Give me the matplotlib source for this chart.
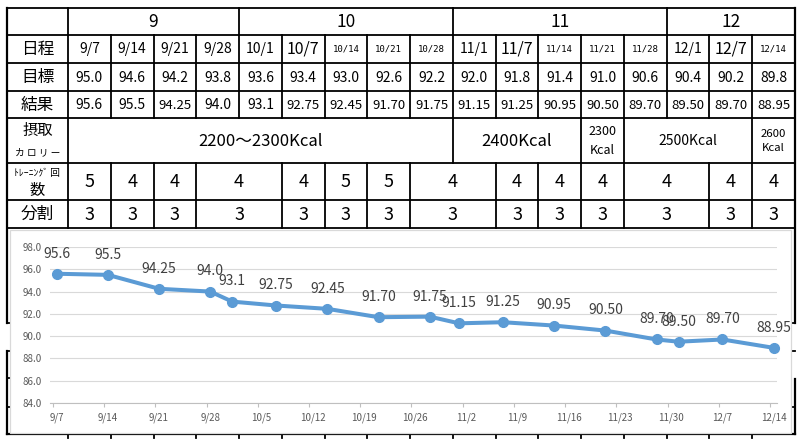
import matplotlib
matplotlib.use('Agg')
import matplotlib.pyplot as plt
import matplotlib.dates as mdates
from matplotlib.patches import Rectangle
from matplotlib.ticker import FixedLocator, FuncFormatter, NullFormatter
import numpy as np
from datetime import datetime, timedelta

plt.rcParams['font.family'] = ['Noto Sans CJK JP', 'DejaVu Sans']

# ---------------- data ----------------
YEAR = 2019
months = ['9', '10', '11', '12']
month_spans = [4, 5, 5, 3]
dates = ['9/7', '9/14', '9/21', '9/28', '10/1', '10/7', '10/14', '10/21', '10/28',
         '11/1', '11/7', '11/14', '11/21', '11/28', '12/1', '12/7', '12/14']
targets = ['95.0', '94.6', '94.2', '93.8', '93.6', '93.4', '93.0', '92.6', '92.2',
           '92.0', '91.8', '91.4', '91.0', '90.6', '90.4', '90.2', '89.8']
results = ['95.6', '95.5', '94.25', '94.0', '93.1', '92.75', '92.45', '91.70', '91.75',
           '91.15', '91.25', '90.95', '90.50', '89.70', '89.50', '89.70', '88.95']
calorie_text = ['2200～2300Kcal', '2400Kcal', '2300\nKcal', '2500Kcal', '2600\nKcal']
calorie_spans = [9, 3, 1, 3, 1]
training = ['5', '4', '4', '4', '4', '5', '5', '4', '4', '4', '4', '4', '4', '4']
split = ['3', '3', '3', '3', '3', '3', '3', '3', '3', '3', '3', '3', '3', '3']
group_spans = [1, 1, 1, 2, 1, 1, 1, 2, 1, 1, 1, 2, 1, 1]
row_labels = ['日程', '目標', '結果']
axis_start, axis_end = '9/7', '12/14'

# ---------------- styles ----------------
small_dates = {'10/14', '10/21', '10/28', '11/14', '11/21', '11/28', '12/14'}
large_dates = {'10/7', '11/7', '12/7'}
calorie_sizes = [12, 12, 9, 10, 8.2]

W, H = 801, 444
fig = plt.figure(figsize=(W / 100, H / 100), dpi=100)
bg = fig.add_axes([0, 0, 1, 1])
bg.set_xlim(0, W)
bg.set_ylim(H, 0)
bg.axis('off')

XL, XC, XR = 7, 68, 795
ncol = len(dates)
cw = (XR - XC) / ncol
colx = [XC + cw * i for i in range(ncol + 1)]
rows = [8, 35, 63, 91, 118, 163, 200, 228]
LW = 1.3
K = 'black'


def hline(y, x0, x1, lw=LW):
    bg.plot([x0, x1], [y, y], color=K, lw=lw, solid_capstyle='projecting', zorder=2)


def vline(x, y0, y1, lw=LW):
    bg.plot([x, x], [y0, y1], color=K, lw=lw, solid_capstyle='projecting', zorder=2)


def txt(x, y, s, size, **kw):
    bg.text(x, y, s, fontsize=size, ha='center', va='center', color=K, zorder=3, **kw)


# horizontal lines
for y in rows:
    hline(y, XL, XR)
# outer / label column
vline(XL, rows[0], 323, 1.6)
vline(XL, 351, 434, 1.6)
vline(XR, rows[0], 323, 1.6)
vline(XR, 379, 434, 1.6)
vline(XC, rows[0], rows[-1])
hline(434, XL, XR, 1.6)
for yy in [323, 351, 378, 407]:
    hline(yy, XL, XL + 3)
for yy in [323, 351, 407]:
    hline(yy, XR - 4, XR)
for x in colx[:-1]:
    vline(x, 434, 438)


def spans_to_bounds(spans):
    b = [0]
    for s in spans:
        b.append(b[-1] + s)
    return b


# row 0: months
b = spans_to_bounds(month_spans)
for i, m in enumerate(months):
    x0, x1 = colx[b[i]], colx[b[i + 1]]
    if b[i] > 0:
        vline(x0, rows[0], rows[1])
    txt((x0 + x1) / 2, (rows[0] + rows[1]) / 2 + 0.5, m, 12.5)

# rows 1-3
for i in range(1, ncol):
    vline(colx[i], rows[1], rows[4])
for r, lab in enumerate(row_labels):
    yc = (rows[r + 1] + rows[r + 2]) / 2 + 0.5
    txt((XL + XC) / 2, yc, lab, 12)
for i in range(ncol):
    xc = (colx[i] + colx[i + 1]) / 2
    d = dates[i]
    yc = (rows[1] + rows[2]) / 2 + 0.5
    if d in small_dates:
        bg.text(xc, yc, d, fontsize=6.5, ha='center', va='center', family='DejaVu Sans Mono', zorder=3)
    elif d in large_dates:
        txt(xc, yc, d, 11.5)
    else:
        txt(xc, yc, d, 10)
    txt(xc, (rows[2] + rows[3]) / 2 + 0.5, targets[i], 10)
    txt(xc, (rows[3] + rows[4]) / 2 + 0.5, results[i], 9.5 if len(results[i]) > 4 else 10)

# row 4: calories
txt((XL + XC) / 2, 130, '摂取', 11)
txt((XL + XC) / 2, 152, 'カ ロ リ ー', 7)
b = spans_to_bounds(calorie_spans)
for i, s in enumerate(calorie_text):
    x0, x1 = colx[b[i]], colx[b[i + 1]]
    if b[i] > 0:
        vline(x0, rows[4], rows[5])
    bg.text((x0 + x1) / 2, (rows[4] + rows[5]) / 2 + 0.5, s, fontsize=calorie_sizes[i],
            ha='center', va='center', linespacing=1.55, zorder=3)

# rows 5-6: training and split
txt((XL + XC) / 2, 173, 'ﾄﾚｰﾆﾝｸﾞ 回', 7)
txt((XL + XC) / 2, 190, '数', 11)
txt((XL + XC) / 2, (rows[6] + rows[7]) / 2 + 0.5, '分割', 12)
b = spans_to_bounds(group_spans)
for i in range(len(group_spans)):
    x0, x1 = colx[b[i]], colx[b[i + 1]]
    if b[i] > 0:
        vline(x0, rows[5], rows[7])
    txt((x0 + x1) / 2, (rows[5] + rows[6]) / 2 + 0.5, training[i], 13)
    txt((x0 + x1) / 2, (rows[6] + rows[7]) / 2 + 0.5, split[i], 13)

# chart panel
bg.add_patch(Rectangle((9.5, 229.5), 781, 203, facecolor='white', edgecolor='#D9D9D9',
                       lw=0.9, zorder=5))

# ---------------- line chart ----------------
def to_date(s):
    m, d = s.split('/')
    return datetime(YEAR, int(m), int(d))


ax = fig.add_axes([50 / W, (H - 403) / H, 727 / W, 156 / H])
ax.set_facecolor('none')
ax.set_zorder(10)

xs = [to_date(d) + timedelta(hours=12) for d in dates]
ys = [float(v) for v in results]
ax.plot(xs, ys, color='#5B9BD5', lw=2.9, marker='o', ms=7, zorder=3,
        solid_joinstyle='round', clip_on=False)
for x, y, s in zip(xs, ys, results):
    ax.annotate(s, (x, y), xytext=(0, 14.5), textcoords='offset points', ha='center',
                va='center', fontsize=10, color='#404040', zorder=4)

ax.set_ylim(84, 98)
ax.set_yticks(np.arange(84, 98.1, 2))
ax.yaxis.set_major_formatter(FuncFormatter(lambda v, p: f'{v:.1f}'))
ax.grid(axis='y', color='#D9D9D9', lw=0.8, zorder=0)
ax.tick_params(axis='y', length=0, labelsize=7, labelcolor='#595959', pad=6)

d0, d1 = to_date(axis_start), to_date(axis_end)
ax.set_xlim(d0 - timedelta(days=0.4), d1 + timedelta(days=0.95))
week_ticks = []
t = d0
while t <= d1:
    week_ticks.append(t)
    t += timedelta(days=7)
ax.xaxis.set_major_locator(FixedLocator(mdates.date2num(week_ticks)))
ax.xaxis.set_major_formatter(NullFormatter())
ax.xaxis.set_minor_locator(FixedLocator(mdates.date2num([w + timedelta(hours=12) for w in week_ticks])))
ax.xaxis.set_minor_formatter(FuncFormatter(lambda v, p: f'{mdates.num2date(v).month}/{mdates.num2date(v).day}'))
ax.tick_params(axis='x', which='major', length=3, color='#BFBFBF', width=0.8)
ax.tick_params(axis='x', which='minor', length=0, labelsize=7, labelcolor='#595959', pad=7)
for sp in ['top', 'left', 'right']:
    ax.spines[sp].set_visible(False)
ax.spines['bottom'].set_color('#BFBFBF')
ax.spines['bottom'].set_linewidth(0.8)

fig.savefig('out.png', dpi=100)
